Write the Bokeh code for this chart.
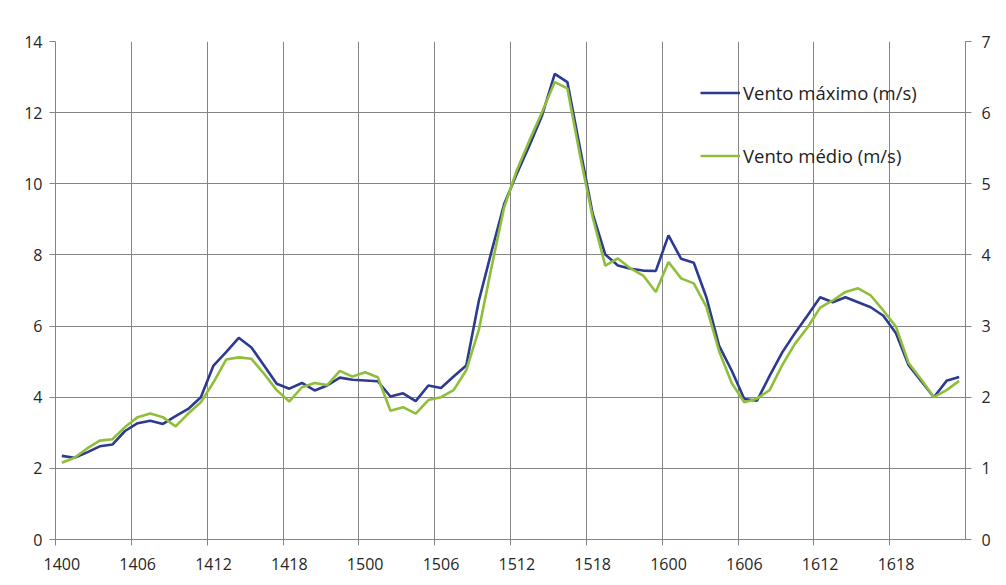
from bokeh.plotting import figure
from bokeh.models import Range1d, LinearAxis, FixedTicker, Legend, LegendItem, ColumnDataSource
from bokeh.embed import file_html
from bokeh.resources import INLINE

# hourly categories: day 14 00h ... day 16 23h
categories = [f"{d}{h:02d}" for d in (14, 15, 16) for h in range(24)]

# Vento máximo (m/s) - left axis
vento_maximo = [2.35, 2.3, 2.45, 2.62, 2.67, 3.05, 3.27, 3.34, 3.25, 3.47, 3.67, 4.0,
                4.89, 5.27, 5.67, 5.4, 4.89, 4.38, 4.24, 4.4, 4.19, 4.33, 4.55, 4.49,
                4.47, 4.45, 4.02, 4.11, 3.89, 4.33, 4.26, 4.58, 4.89, 6.72, 8.1, 9.43,
                10.28, 11.08, 11.92, 13.09, 12.86, 11.0, 9.16, 8.01, 7.7, 7.61, 7.56, 7.55,
                8.55, 7.89, 7.78, 6.81, 5.45, 4.75, 3.95, 3.9, 4.6, 5.26, 5.8, 6.3,
                6.81, 6.67, 6.81, 6.67, 6.53, 6.29, 5.8, 4.9, 4.45, 4.0, 4.46, 4.57]

# Vento médio (m/s) - right (secondary) axis
vento_medio = [1.08, 1.15, 1.28, 1.39, 1.41, 1.58, 1.72, 1.77, 1.72, 1.59, 1.77, 1.93,
               2.21, 2.53, 2.56, 2.54, 2.33, 2.10, 1.94, 2.14, 2.20, 2.17, 2.37, 2.29,
               2.35, 2.28, 1.81, 1.86, 1.77, 1.96, 2.00, 2.10, 2.38, 2.95, 3.83, 4.67,
               5.19, 5.61, 6.01, 6.43, 6.34, 5.40, 4.53, 3.85, 3.95, 3.81, 3.71, 3.48,
               3.90, 3.67, 3.60, 3.27, 2.65, 2.20, 1.93, 1.98, 2.10, 2.45, 2.75, 2.98,
               3.26, 3.36, 3.48, 3.53, 3.43, 3.22, 2.99, 2.48, 2.25, 2.00, 2.10, 2.23]

left_ticks = [0, 2, 4, 6, 8, 10, 12, 14]
right_ticks = [0, 1, 2, 3, 4, 5, 6, 7]
label_step = 6

n = len(categories)
xs = list(range(n))
src = ColumnDataSource(dict(x=xs, vmax=vento_maximo, vmed=vento_medio))

FONT = "Open Sans"
GRID = "#858585"
TXT = "#262626"

p = figure(width=1000, height=580, output_backend="svg", toolbar_location=None,
           x_range=Range1d(-0.5, n - 0.5), y_range=Range1d(0, 14),
           min_border_left=55, min_border_right=35, min_border_top=41, min_border_bottom=41)
p.extra_y_ranges = {"y2": Range1d(0, 7)}
p.outline_line_color = None
p.background_fill_color = "white"
p.border_fill_color = "white"

# x axis: labels centred in category slots, ticks / grid at slot boundaries
bounds = [-0.5 + label_step * k for k in range(n // label_step)]
p.xaxis.ticker = FixedTicker(ticks=list(range(0, n, label_step)), minor_ticks=bounds)
p.xaxis.major_label_overrides = {i: categories[i] for i in range(0, n, label_step)}
p.xaxis.minor_tick_line_color = GRID
p.xaxis.minor_tick_out = 6
p.xaxis.minor_tick_in = 0
p.xaxis.major_tick_out = 0
p.xaxis.major_tick_in = 0
p.xaxis.major_label_standoff = 12
p.xgrid.ticker = FixedTicker(ticks=bounds[1:])
p.xgrid.grid_line_color = GRID
p.xgrid.grid_line_width = 1

p.yaxis.ticker = FixedTicker(ticks=left_ticks)
p.yaxis.minor_tick_line_color = None
p.yaxis.major_tick_out = 6
p.yaxis.major_tick_in = 0
p.yaxis.major_label_standoff = 7
p.ygrid.ticker = FixedTicker(ticks=left_ticks[1:])
p.ygrid.grid_line_color = GRID
p.ygrid.grid_line_width = 1

ax2 = LinearAxis(y_range_name="y2", ticker=FixedTicker(ticks=right_ticks))
ax2.minor_tick_line_color = None
ax2.major_tick_out = 6
ax2.major_tick_in = 0
ax2.major_label_standoff = 10
p.add_layout(ax2, "right")

for ax in [p.xaxis[0], p.yaxis[0], ax2]:
    ax.axis_line_color = GRID
    ax.major_label_text_font = FONT
    ax.major_label_text_font_size = "16px"
    ax.major_label_text_color = TXT
p.xaxis.major_tick_line_color = None
p.yaxis.major_tick_line_color = GRID
ax2.major_tick_line_color = GRID

r1 = p.line("x", "vmax", source=src, line_color="#2c3a8f", line_width=2.6)
r2 = p.line("x", "vmed", source=src, y_range_name="y2", line_color="#8fbf3a", line_width=2.6)

legend = Legend(items=[LegendItem(label="Vento máximo (m/s)", renderers=[r1]),
                       LegendItem(label="Vento médio (m/s)", renderers=[r2])],
                location=(645, 371), orientation="vertical",
                glyph_width=40, glyph_height=25, label_height=25, spacing=38,
                label_standoff=3, padding=0, margin=0,
                background_fill_alpha=0, border_line_alpha=0,
                label_text_font=FONT, label_text_font_size="18.5px", label_text_color="#1e1e1e")
p.add_layout(legend, "center")

open("out.html", "w").write(file_html(p, INLINE))
